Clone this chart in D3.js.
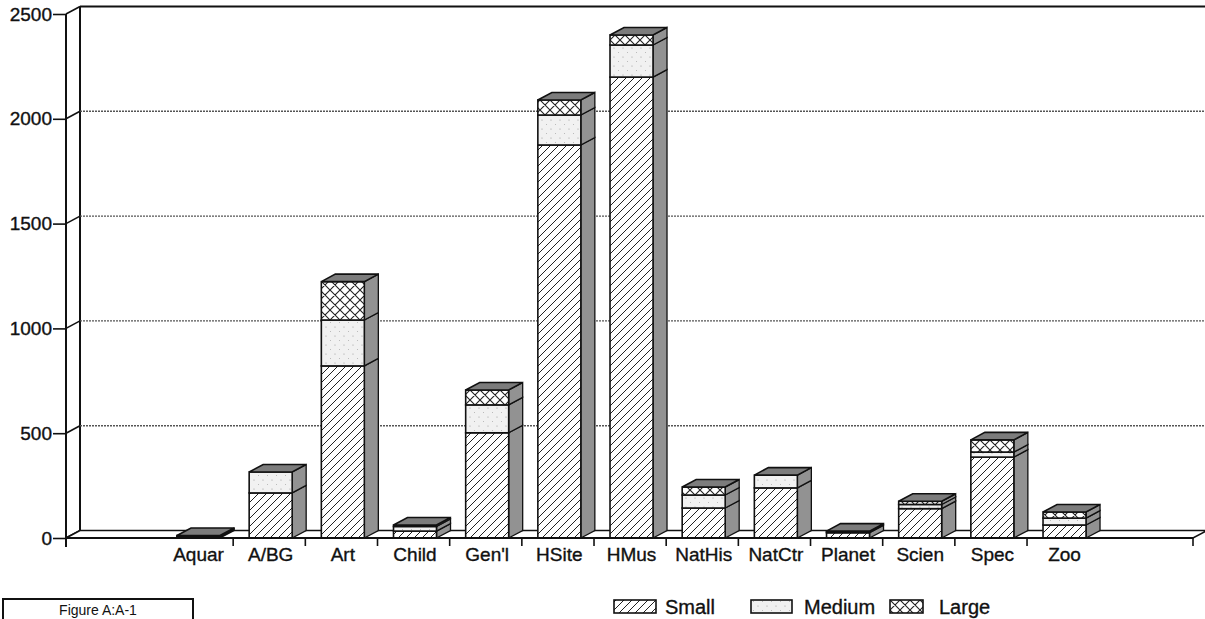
<!DOCTYPE html>
<html>
<head>
<meta charset="utf-8">
<script src="https://cdn.jsdelivr.net/npm/d3@7"></script>
<style>
  body { margin: 0; background: #fff; }
  svg { display: block; font-family: "Liberation Sans", Arial, Helvetica, sans-serif; }
</style>
</head>
<body>
<svg id="chart" width="1205" height="619"></svg>
<script>
// values
const categories = ["Aquar", "A/BG", "Art", "Child", "Gen'l", "HSite", "HMus", "NatHis", "NatCtr", "Planet", "Scien", "Spec", "Zoo"];
const small  = [6, 215, 821, 33, 502, 1875, 2199, 143, 239, 25, 140, 386, 62];
const medium = [3, 100, 219, 22, 133, 143, 153, 62, 61, 5, 20, 24, 33];
const large  = [3, 0, 183, 7, 71, 72, 48, 38, 0, 3, 15, 58, 29];
const seriesNames = ["Small", "Medium", "Large"];
const yTicks = [0, 500, 1000, 1500, 2000, 2500];

const svg = d3.select("#chart");

// 3d depth offset
const dx = 14, dy = -7.5;
const axisX = 66, axisRight = 1193;

const y = d3.scaleLinear().domain([0, 2500]).range([538, 14]);
const x = d3.scaleBand().domain(categories).range([161, 1099.2]).padding(0);

const rows = categories.map((c, i) => ({cat: c, Small: small[i], Medium: medium[i], Large: large[i]}));
const stacked = d3.stack().keys(seriesNames)(rows);

// patterns
const defs = svg.append("defs");
const hatch = defs.append("pattern").attr("id", "pSmall")
  .attr("patternUnits", "userSpaceOnUse").attr("width", 8).attr("height", 8);
hatch.append("rect").attr("width", 8).attr("height", 8).attr("fill", "#fff");
hatch.append("path").attr("d", "M0,8 L8,0 M-2,2 L2,-2 M6,10 L10,6")
  .attr("stroke", "#222").attr("stroke-width", 1);

const dots = defs.append("pattern").attr("id", "pMedium")
  .attr("patternUnits", "userSpaceOnUse").attr("width", 9).attr("height", 9);
dots.append("rect").attr("width", 9).attr("height", 9).attr("fill", "#f1f1f1");
dots.append("circle").attr("cx", 2).attr("cy", 3).attr("r", 0.6).attr("fill", "#999");
dots.append("circle").attr("cx", 6.5).attr("cy", 7.5).attr("r", 0.5).attr("fill", "#aaa");

const cross = defs.append("pattern").attr("id", "pLarge")
  .attr("patternUnits", "userSpaceOnUse").attr("width", 10).attr("height", 10);
cross.append("rect").attr("width", 10).attr("height", 10).attr("fill", "#fff");
cross.append("path").attr("d", "M0,10 L10,0 M0,0 L10,10 M-2,2 L2,-2 M8,12 L12,8 M-2,8 L2,12 M8,-2 L12,2")
  .attr("stroke", "#222").attr("stroke-width", 1.1);

const fills = {Small: "url(#pSmall)", Medium: "url(#pMedium)", Large: "url(#pLarge)"};

// back wall
svg.append("line")
  .attr("x1", axisX + dx).attr("x2", axisX + dx)
  .attr("y1", y(2500) + dy).attr("y2", y(0) + dy)
  .attr("stroke", "#111").attr("stroke-width", 2);
svg.append("line")
  .attr("x1", axisX + dx).attr("x2", 1205)
  .attr("y1", y(2500) + dy).attr("y2", y(2500) + dy)
  .attr("stroke", "#111").attr("stroke-width", 2.2);

// gridlines on back wall
svg.append("g").selectAll("line")
  .data(yTicks.filter(v => v > 0 && v < 2500))
  .join("line")
  .attr("x1", axisX + dx).attr("x2", 1205)
  .attr("y1", d => y(d) + dy).attr("y2", d => y(d) + dy)
  .attr("stroke", "#555").attr("stroke-width", 1.4)
  .attr("stroke-dasharray", "2,1");

// diagonals from front axis to back wall
svg.append("g").selectAll("line")
  .data(yTicks)
  .join("line")
  .attr("x1", axisX).attr("y1", d => y(d))
  .attr("x2", axisX + dx).attr("y2", d => y(d) + dy)
  .attr("stroke", "#111").attr("stroke-width", 1.6);

// floor
svg.append("path")
  .attr("d", `M${axisX},${y(0)} L${axisX + dx},${y(0) + dy} L${axisRight + dx},${y(0) + dy} L${axisRight},${y(0)} Z`)
  .attr("fill", "#fff").attr("stroke", "#111").attr("stroke-width", 1.6);

// bars
const frontOff = 16, frontW = 43;
const barG = svg.append("g");
stacked.forEach(s => {
  s.forEach((d, i) => {
    if (d[1] - d[0] <= 0) return;
    const fx = x(categories[i]) + frontOff;
    const yTop = y(d[1]), yBot = y(d[0]);
    barG.append("path")
      .attr("d", `M${fx + frontW},${yBot} L${fx + frontW + dx},${yBot + dy} L${fx + frontW + dx},${yTop + dy} L${fx + frontW},${yTop} Z`)
      .attr("fill", "#929292").attr("stroke", "#111").attr("stroke-width", 1.3);
    barG.append("rect")
      .attr("x", fx).attr("y", yTop)
      .attr("width", frontW).attr("height", yBot - yTop)
      .attr("fill", fills[s.key]).attr("stroke", "#111").attr("stroke-width", 1.6);
  });
});
// top faces
rows.forEach(r => {
  const fx = x(r.cat) + frontOff;
  const yt = y(r.Small + r.Medium + r.Large);
  barG.append("path")
    .attr("d", `M${fx},${yt} L${fx + dx},${yt + dy} L${fx + frontW + dx},${yt + dy} L${fx + frontW},${yt} Z`)
    .attr("fill", "#7c7c7c").attr("stroke", "#111").attr("stroke-width", 1.6);
});

// y axis
const yAxis = d3.axisLeft(y).tickValues(yTicks).tickSize(13).tickPadding(1).tickFormat(d3.format("d"));
const yG = svg.append("g").attr("transform", `translate(${axisX},0)`).call(yAxis);
yG.select(".domain").remove();
yG.selectAll(".tick line").attr("stroke", "#111").attr("stroke-width", 1.6);
yG.selectAll(".tick text").attr("fill", "#111").attr("stroke", "#111").attr("stroke-width", 0.35)
  .style("font-size", "19px");
svg.append("line")
  .attr("x1", axisX).attr("x2", axisX)
  .attr("y1", y(2500)).attr("y2", y(0) + 9)
  .attr("stroke", "#111").attr("stroke-width", 2);

// x axis
const xAxis = d3.axisBottom(x).tickSize(0).tickPadding(10);
const xG = svg.append("g").attr("transform", `translate(0,${y(0)})`).call(xAxis);
xG.select(".domain").remove();
xG.selectAll(".tick").attr("transform", d => `translate(${x(d) + frontOff + frontW / 2},0)`);
xG.selectAll(".tick text").attr("fill", "#111").attr("stroke", "#111").attr("stroke-width", 0.35)
  .style("font-size", "19px");
svg.append("line")
  .attr("x1", axisX).attr("x2", axisRight)
  .attr("y1", y(0)).attr("y2", y(0))
  .attr("stroke", "#111").attr("stroke-width", 2);
// ticks between categories
svg.append("g").selectAll("line")
  .data(categories.slice(1).map(c => x(c)).concat([axisRight]))
  .join("line")
  .attr("x1", d => d).attr("x2", d => d)
  .attr("y1", y(0)).attr("y2", y(0) + 8)
  .attr("stroke", "#111").attr("stroke-width", 1.6);

// legend
const legend = [
  {key: "Small", rx: 614, rw: 42, tx: 665},
  {key: "Medium", rx: 751, rw: 41, tx: 804},
  {key: "Large", rx: 890, rw: 33, tx: 939}
];
const lg = svg.append("g");
lg.selectAll("rect").data(legend).join("rect")
  .attr("x", d => d.rx).attr("y", 600).attr("width", d => d.rw).attr("height", 13)
  .attr("fill", d => fills[d.key]).attr("stroke", "#111").attr("stroke-width", 1.6);
lg.selectAll("text").data(legend).join("text")
  .attr("x", d => d.tx).attr("y", 614)
  .attr("fill", "#111").attr("stroke", "#111").attr("stroke-width", 0.35)
  .style("font-size", "20px")
  .text(d => d.key);

// figure label box (runs past the bottom edge)
svg.append("rect")
  .attr("x", 3).attr("y", 599).attr("width", 190).attr("height", 40)
  .attr("fill", "none").attr("stroke", "#111").attr("stroke-width", 2);
svg.append("text")
  .attr("x", 98).attr("y", 615).attr("text-anchor", "middle")
  .attr("fill", "#111").style("font-size", "14px")
  .text("Figure A:A-1");
</script>
</body>
</html>
